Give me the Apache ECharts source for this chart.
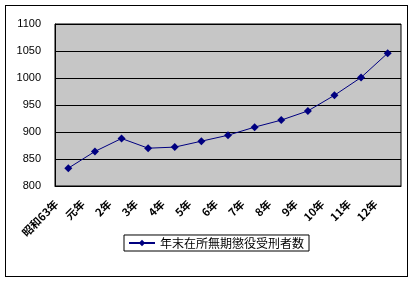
<!DOCTYPE html>
<html>
<head>
<meta charset="utf-8">
<script src="https://cdn.jsdelivr.net/npm/echarts@6/dist/echarts.min.js"></script>
<style>
  html, body { margin: 0; padding: 0; background: #fff; }
  #chart { width: 413px; height: 284px; }
  .frame { position: absolute; left: 5px; top: 5px; width: 403px; height: 272px; border: 1px solid #000; box-sizing: border-box; pointer-events: none; }
</style>
</head>
<body>
<div id="chart"></div>
<div class="frame"></div>
<script>
const categories = ["昭和63年", "元年", "2年", "3年", "4年", "5年", "6年", "7年", "8年", "9年", "10年", "11年", "12年"];
const values = [833, 864, 888, 870, 872, 883, 894, 909, 922, 939, 968, 1001, 1046];
const seriesName = "年末在所無期懲役受刑者数";

const myChart = echarts.init(document.getElementById("chart"));
myChart.setOption({
  animation: false,
  textStyle: { fontFamily: "Noto Sans CJK JP, sans-serif" },
  grid: { left: 55, right: 12, top: 24, bottom: 98, backgroundColor: "#c6c6c6", show: true, borderColor: "#000", borderWidth: 1 },
  legend: {
    bottom: 33,
    left: 124,
    itemWidth: 26,
    itemHeight: 8,
    itemGap: 6,
    padding: [2, 5, 2, 4],
    borderColor: "#000",
    borderWidth: 1,
    borderRadius: 0,
    textStyle: { color: "#000", fontSize: 12 },
    data: [seriesName]
  },
  xAxis: {
    type: "category",
    data: categories,
    boundaryGap: true,
    axisLine: { lineStyle: { color: "#000" } },
    axisTick: { lineStyle: { color: "#000" }, length: 4 },
    axisLabel: { rotate: 45, color: "#000", fontSize: 11, fontWeight: "bold", margin: 4, padding: [0, 17, 0, 0], interval: 0 }
  },
  yAxis: {
    type: "value",
    min: 800,
    max: 1100,
    interval: 50,
    axisLine: { show: true, lineStyle: { color: "#000" } },
    axisTick: { show: false },
    axisLabel: { color: "#000", fontSize: 11, fontFamily: "Arial, Liberation Sans", margin: 14, formatter: (v) => String(v) },
    splitLine: { lineStyle: { color: "#000", width: 1 } }
  },
  series: [{
    name: seriesName,
    type: "line",
    data: values,
    symbol: "diamond",
    symbolSize: 8,
    lineStyle: { color: "#000080", width: 1 },
    itemStyle: { color: "#000080" }
  }]
});
</script>
</body>
</html>
